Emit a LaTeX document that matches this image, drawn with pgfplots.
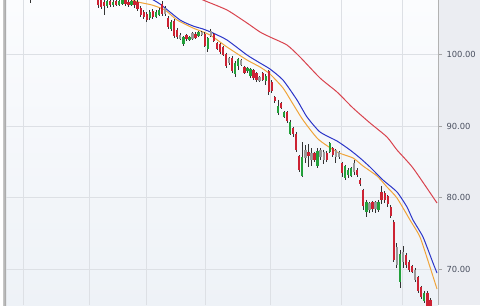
\documentclass[border=0pt]{standalone}
\usepackage{pgfplots}
\pgfplotsset{compat=1.18}
\usepackage{pgfplotstable}
\usepackage{fontspec}
\setmainfont{DejaVu Sans}
\definecolor{bgtop}{HTML}{FBFCFE}
\definecolor{bgbot}{HTML}{EEF2F7}
\definecolor{panel}{HTML}{EBEDF2}
\definecolor{gridc}{HTML}{DDE0E5}
\definecolor{labc}{HTML}{4A5060}
\definecolor{candred}{HTML}{CC2233}
\definecolor{candgreen}{HTML}{22A03A}
\definecolor{candgray}{HTML}{9A9A9A}
\definecolor{wickc}{HTML}{333333}
\definecolor{mared}{HTML}{D9434E}
\definecolor{mablue}{HTML}{2B35C8}
\definecolor{maorange}{HTML}{F0A43A}

\pgfplotstableread{
d o h l c
0 108.03 108.45 106.49 106.91
1 107.61 108.03 106.35 106.63
2 107.33 107.89 105.51 106.77
4 107.47 107.75 106.63 106.91
6 107.47 107.75 106.77 106.91
9 107.61 107.89 106.77 107.05
10 107.33 107.61 106.63 106.91
12 107.47 107.75 106.49 106.91
13 107.33 107.61 106.07 106.35
14 106.49 106.77 105.24 105.51
15 105.93 106.21 104.96 105.24
16 105.65 105.93 104.54 104.82
18 106.07 106.35 104.96 105.24
21 107.05 107.47 105.37 105.65
23 105.10 105.37 103.56 103.84
25 104.68 104.96 102.30 102.58
26 103.42 103.70 102.16 102.44
29 102.72 102.86 101.88 102.16
32 102.86 103.14 102.16 102.30
35 102.86 103.14 101.04 101.18
38 102.86 103.00 101.74 101.88
39 101.60 101.74 100.62 100.76
40 101.46 101.60 100.07 100.35
41 101.04 101.18 99.79 99.93
42 100.07 100.21 98.11 98.39
44 99.51 99.79 97.41 97.69
48 98.25 98.39 97.27 97.41
51 97.83 97.97 96.43 96.71
52 97.41 97.55 96.15 96.43
54 97.41 97.55 96.29 96.43
56 97.69 97.83 94.34 94.76
57 96.15 96.43 94.62 94.90
58 94.06 94.20 93.22 93.50
60 93.22 93.36 92.38 92.52
62 91.96 92.10 90.43 90.71
64 89.73 89.87 88.47 88.89
65 88.89 89.17 86.38 86.66
66 85.82 85.96 83.58 83.86
69 86.38 87.49 84.28 85.82
71 86.24 86.38 84.98 85.26
75 86.24 86.52 84.98 85.26
77 86.93 87.07 85.68 85.96
80 84.84 84.98 82.88 83.44
85 83.86 84.14 82.88 83.16
86 82.46 82.74 81.63 81.91
87 81.07 81.21 78.27 78.83
90 79.39 79.53 77.99 78.41
93 80.79 81.63 79.11 79.67
94 80.65 80.93 79.25 79.67
95 80.23 80.37 78.69 79.11
96 78.69 78.97 77.16 77.43
97 76.60 76.88 71.01 71.29
101 71.99 72.27 70.17 70.59
102 71.01 71.29 69.61 69.89
103 70.45 70.59 69.47 69.61
105 68.91 69.05 66.68 66.96
106 67.52 67.66 65.84 66.12
108 66.68 66.96 64.02 64.30
109 65.70 65.98 63.60 64.02
}\redc

\pgfplotstableread{
d o h l c
-22 108.73 110.12 107.19 109.57
3 106.77 107.75 106.49 107.47
5 106.91 107.61 106.63 107.33
7 106.91 107.61 106.77 107.47
8 107.05 107.89 106.91 107.61
11 106.91 107.75 106.77 107.47
17 105.10 106.21 104.82 105.93
19 105.24 106.21 105.10 105.93
20 105.51 106.49 105.37 106.21
24 103.56 104.82 103.28 104.54
28 101.46 102.58 101.18 102.44
30 102.02 102.58 101.88 102.44
33 102.58 103.28 102.44 103.14
36 100.76 102.44 100.35 102.30
45 97.27 99.09 96.85 98.81
46 98.39 99.51 97.83 99.37
49 97.69 98.25 97.41 98.11
50 96.99 98.11 96.71 97.97
55 96.29 97.27 95.74 96.99
59 91.82 93.64 91.54 92.80
61 91.27 92.10 91.13 91.96
63 88.89 90.85 88.75 90.57
67 83.02 87.77 82.88 85.68
72 84.42 86.93 84.14 86.52
76 86.38 87.77 86.24 87.63
81 82.74 84.56 82.46 84.42
82 83.16 84.14 82.74 83.86
83 83.02 84.28 82.88 84.14
88 77.99 79.67 77.30 79.39
92 78.27 79.67 77.99 79.39
99 68.21 72.68 67.38 72.13
107 65.56 66.96 65.28 66.68
}\greenc

\pgfplotstableread{
d o h l c
22 106.49 106.77 105.37 105.65
27 102.72 103.00 102.02 102.16
31 103.00 103.14 102.02 102.16
34 103.14 103.28 102.58 102.72
37 103.28 103.56 102.44 102.58
43 99.51 99.65 98.53 98.81
47 99.23 99.37 98.39 98.53
53 96.85 96.99 96.15 96.29
68 86.66 87.35 84.84 85.54
70 86.24 86.93 84.42 85.26
73 86.66 86.93 85.26 85.68
74 86.38 86.66 84.70 85.26
78 86.66 86.79 84.84 85.68
79 86.38 86.52 85.40 85.68
84 84.84 85.26 83.16 83.58
89 79.25 79.39 77.85 78.27
91 79.39 79.53 77.85 78.41
98 73.10 73.66 70.17 70.59
100 72.41 73.24 70.17 71.01
104 69.89 70.17 68.21 68.49
}\grayc

\pgfplotsset{
  wick/.style={draw=none, mark=none, forget plot,
    error bars/.cd, y dir=both, y explicit, error mark=none,
    error bar style={draw=wickc, solid, line width=0.8bp}},
  body/.style={draw=none, mark=none, forget plot,
    error bars/.cd, y dir=both, y explicit, error mark=none,
    error bar style={draw=#1, solid, line width=2.3bp}},
  ma/.style={#1, line width=1bp, line join=round, smooth, tension=0.35},
}

\begin{document}
\begin{tikzpicture}[x=1bp,y=1bp]
\path[use as bounding box] (0,0) rectangle (480,305);
\fill[white] (0,0) rectangle (480,305);
\shade[top color=bgtop, bottom color=bgbot] (6,0) rectangle (438,305);
\fill[panel] (438,0) rectangle (480,305);
\shade[left color=gray!45, right color=gray!75] (3,0) rectangle (6,305);
\begin{axis}[
  at={(6bp,0bp)}, anchor=south west,
  scale only axis, width=432bp, height=305bp,
  xmin=-30.16, xmax=111.48,
  ymin=65.0, ymax=107.61,
  axis line style={draw=none},
  xtick={-24.59,-2.95,15.74,35.08,56.39,79.67,99.67},
  xticklabels={},
  xmajorgrids, ymajorgrids,
  major grid style={draw=gridc, line width=0.9bp},
  xtick style={draw=none},
  ytick={70,80,90,100},
  ytick pos=right, yticklabel pos=right,
  tick align=outside,
  major tick length=4bp,
  ytick style={draw=gray!70, line width=0.8bp},
  /pgf/number format/fixed,
  /pgf/number format/fixed zerofill,
  /pgf/number format/precision=2,
  /pgf/number format/assume math mode=true,
  yticklabel style={font=\fontsize{8.4}{10}\selectfont, text=labc, anchor=west, xshift=1bp},
  clip=true,
]
% moving averages
\addplot[ma=mared] coordinates {
(31.80,108.17) (34.43,107.61) (42.30,106.21) (48.85,104.40) (53.11,103.14) (56.39,102.44) (61.97,101.32) (66.23,99.65) (72.79,96.71) (78.36,94.76) (83.61,92.52) (89.18,90.43) (94.75,88.47) (98.03,86.66) (103.28,84.14) (111.15,79.25)};
\addplot[ma=maorange] coordinates {
(9.84,107.89) (13.11,107.33) (17.70,106.91) (21.97,106.21) (25.90,104.82) (31.15,103.70) (36.72,102.72) (42.30,101.04) (48.85,99.23) (53.11,98.25) (56.39,97.27) (60.66,95.32) (63.93,93.08) (67.21,90.85) (72.13,88.19) (78.36,86.37) (83.61,85.54) (86.89,84.42) (91.48,83.02) (94.75,81.49) (98.03,79.95) (102.30,76.88) (105.57,74.50) (108.85,70.31) (111.15,67.24)};
\addplot[ma=mablue] coordinates {
(16.39,108.03) (20.33,107.05) (26.89,104.82) (31.15,103.98) (34.43,103.56) (37.70,103.00) (42.30,102.02) (48.85,99.93) (53.11,98.81) (56.39,97.97) (60.66,96.43) (65.25,93.64) (68.52,91.27) (72.79,89.17) (78.36,87.91) (82.62,86.66) (85.90,85.54) (89.18,84.28) (93.44,82.46) (98.03,80.79) (101.31,78.69) (103.28,76.88) (106.56,74.50) (109.84,70.87) (111.15,69.47)};
% wicks
\addplot[wick] table[x=d, y=h, y error plus expr=0, y error minus expr=\thisrow{h}-\thisrow{l}] {\redc};
\addplot[wick] table[x=d, y=h, y error plus expr=0, y error minus expr=\thisrow{h}-\thisrow{l}] {\greenc};
\addplot[wick] table[x=d, y=h, y error plus expr=0, y error minus expr=\thisrow{h}-\thisrow{l}] {\grayc};
% bodies
\addplot[body=candred] table[x=d, y=o, y error plus expr=0, y error minus expr=\thisrow{o}-\thisrow{c}] {\redc};
\addplot[body=candgreen] table[x=d, y=c, y error plus expr=0, y error minus expr=\thisrow{c}-\thisrow{o}] {\greenc};
\addplot[body=candgray] table[x=d, y=o, y error plus expr=0, y error minus expr=\thisrow{o}-\thisrow{c}] {\grayc};
\end{axis}
\draw[gray!60, line width=0.9bp] (438,0) -- (438,305);
\end{tikzpicture}
\end{document}
